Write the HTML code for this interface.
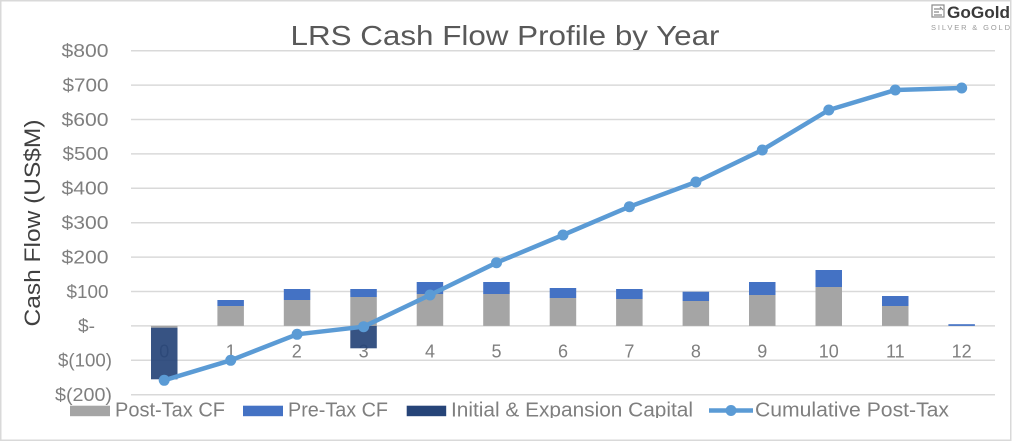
<!DOCTYPE html>
<html><head><meta charset="utf-8">
<style>
html,body{margin:0;padding:0;background:#fff;}
svg{display:block;font-family:"Liberation Sans",sans-serif;}
</style></head>
<body>
<svg width="1013" height="442" viewBox="0 0 1013 442" xmlns="http://www.w3.org/2000/svg">
<rect x="0" y="0" width="1013" height="442" fill="#fff"/>
<rect x="0.75" y="0.75" width="1010" height="439.5" fill="none" stroke="#d9d9d9" stroke-width="1.5"/>

<!-- title -->
<text x="290.5" y="45" font-size="28" fill="#595959" textLength="429" lengthAdjust="spacingAndGlyphs">LRS Cash Flow Profile by Year</text>

<!-- logo -->
<g>
<rect x="932" y="5" width="12" height="12" fill="none" stroke="#8a8a8a" stroke-width="1.2"/>
<path d="M934 9 L941 9 M934 12 L939 12 M934 15 L942 15 M940 7 L943 10" stroke="#8a8a8a" stroke-width="1.2" fill="none"/>
<text x="947" y="18" font-size="16.5" font-weight="bold" fill="#3a3a3a" textLength="63" lengthAdjust="spacingAndGlyphs">GoGold</text>
<text x="931" y="30" font-size="7.5" fill="#9a9a9a" textLength="79" lengthAdjust="spacing">SILVER &amp; GOLD</text>
</g>

<!-- gridlines -->
<g stroke="#d9d9d9" stroke-width="1.5">
<line x1="131" x2="995" y1="50.7" y2="50.7"/>
<line x1="131" x2="995" y1="85.1" y2="85.1"/>
<line x1="131" x2="995" y1="119.5" y2="119.5"/>
<line x1="131" x2="995" y1="153.9" y2="153.9"/>
<line x1="131" x2="995" y1="188.3" y2="188.3"/>
<line x1="131" x2="995" y1="222.7" y2="222.7"/>
<line x1="131" x2="995" y1="257.1" y2="257.1"/>
<line x1="131" x2="995" y1="291.5" y2="291.5"/>
<line x1="131" x2="995" y1="325.9" y2="325.9"/>
<line x1="131" x2="995" y1="360.3" y2="360.3"/>
<line x1="131" x2="995" y1="394.7" y2="394.7"/>
</g>

<!-- y tick labels -->
<g font-size="18" fill="#7f7f7f" text-anchor="end">
<text x="108.5" y="57" textLength="47" lengthAdjust="spacingAndGlyphs">$800</text>
<text x="108.5" y="91.4" textLength="46" lengthAdjust="spacingAndGlyphs">$700</text>
<text x="108.5" y="125.8" textLength="47" lengthAdjust="spacingAndGlyphs">$600</text>
<text x="108.5" y="160.2" textLength="46" lengthAdjust="spacingAndGlyphs">$500</text>
<text x="108.5" y="194.6" textLength="47" lengthAdjust="spacingAndGlyphs">$400</text>
<text x="108.5" y="229" textLength="47" lengthAdjust="spacingAndGlyphs">$300</text>
<text x="108.5" y="263.4" textLength="47" lengthAdjust="spacingAndGlyphs">$200</text>
<text x="108.5" y="297.8" textLength="42" lengthAdjust="spacingAndGlyphs">$100</text>
<text x="95" y="332.2" textLength="17" lengthAdjust="spacingAndGlyphs">$-</text>
<text x="112" y="366.6" textLength="54" lengthAdjust="spacingAndGlyphs">$(100)</text>
<text x="112" y="401" textLength="57" lengthAdjust="spacingAndGlyphs">$(200)</text>
</g>

<!-- y axis title -->
<text transform="translate(40,223) rotate(-90)" text-anchor="middle" font-size="22" fill="#404040" textLength="207" lengthAdjust="spacingAndGlyphs">Cash Flow (US$M)</text>

<!-- x labels (behind bars) -->
<g font-size="18" fill="#7f7f7f" text-anchor="middle">
<text x="164.2" y="357.5">0</text>
<text x="230.7" y="357.5">1</text>
<text x="296.7" y="357.5">2</text>
<text x="363.6" y="357.5">3</text>
<text x="430" y="357.5">4</text>
<text x="496.5" y="357.5">5</text>
<text x="563" y="357.5">6</text>
<text x="629.4" y="357.5">7</text>
<text x="695.9" y="357.5">8</text>
<text x="762.3" y="357.5">9</text>
<text x="828.8" y="357.5">10</text>
<text x="895.3" y="357.5">11</text>
<text x="961.7" y="357.5">12</text>
</g>

<!-- bars -->
<g>
<rect x="151" y="325.9" width="26.5" height="1.8" fill="#a5a5a5"/>
<rect x="151" y="327.7" width="26.5" height="51.6" fill="#264478" opacity="0.92"/>
<rect x="217.4" y="306" width="26.5" height="19.9" fill="#a5a5a5"/>
<rect x="217.4" y="300" width="26.5" height="6" fill="#4472c4"/>
<rect x="283.8" y="300" width="26.5" height="25.9" fill="#a5a5a5"/>
<rect x="283.8" y="289" width="26.5" height="11" fill="#4472c4"/>
<rect x="350.3" y="297" width="26.5" height="28.9" fill="#a5a5a5"/>
<rect x="350.3" y="289" width="26.5" height="8" fill="#4472c4"/>
<rect x="350.3" y="325.9" width="26.5" height="22.4" fill="#264478" opacity="0.92"/>
<rect x="416.7" y="294" width="26.5" height="31.9" fill="#a5a5a5"/>
<rect x="416.7" y="282" width="26.5" height="12" fill="#4472c4"/>
<rect x="483.2" y="294" width="26.5" height="31.9" fill="#a5a5a5"/>
<rect x="483.2" y="282" width="26.5" height="12" fill="#4472c4"/>
<rect x="549.7" y="298" width="26.5" height="27.9" fill="#a5a5a5"/>
<rect x="549.7" y="288" width="26.5" height="10" fill="#4472c4"/>
<rect x="616.1" y="299" width="26.5" height="26.9" fill="#a5a5a5"/>
<rect x="616.1" y="289" width="26.5" height="10" fill="#4472c4"/>
<rect x="682.6" y="301" width="26.5" height="24.9" fill="#a5a5a5"/>
<rect x="682.6" y="291.7" width="26.5" height="9.3" fill="#4472c4"/>
<rect x="749" y="295" width="26.5" height="30.9" fill="#a5a5a5"/>
<rect x="749" y="282" width="26.5" height="13" fill="#4472c4"/>
<rect x="815.5" y="287" width="26.5" height="38.9" fill="#a5a5a5"/>
<rect x="815.5" y="270" width="26.5" height="17" fill="#4472c4"/>
<rect x="882" y="306" width="26.5" height="19.9" fill="#a5a5a5"/>
<rect x="882" y="296" width="26.5" height="10" fill="#4472c4"/>
<rect x="948.4" y="324.2" width="26.5" height="1.7" fill="#4472c4"/>
</g>

<!-- cumulative line -->
<polyline fill="none" stroke="#5b9bd5" stroke-width="4.5" stroke-linejoin="round"
points="164.2,380.3 230.7,360.3 297.1,334.3 363.6,326.7 430,295 496.5,262.7 563,235 629.4,206.7 695.9,182 762.3,150 828.8,110 895.3,90 961.7,88"/>
<g fill="#5b9bd5">
<circle cx="164.2" cy="380.3" r="5.5"/>
<circle cx="230.7" cy="360.3" r="5.5"/>
<circle cx="297.1" cy="334.3" r="5.5"/>
<circle cx="363.6" cy="326.7" r="5.5"/>
<circle cx="430" cy="295" r="5.5"/>
<circle cx="496.5" cy="262.7" r="5.5"/>
<circle cx="563" cy="235" r="5.5"/>
<circle cx="629.4" cy="206.7" r="5.5"/>
<circle cx="695.9" cy="182" r="5.5"/>
<circle cx="762.3" cy="150" r="5.5"/>
<circle cx="828.8" cy="110" r="5.5"/>
<circle cx="895.3" cy="90" r="5.5"/>
<circle cx="961.7" cy="88" r="5.5"/>
</g>

<!-- legend -->
<defs><clipPath id="lc"><rect x="0" y="396" width="1013" height="22"/></clipPath></defs>
<g clip-path="url(#lc)">
<rect x="70" y="405.7" width="40" height="10.5" fill="#a5a5a5"/>
<rect x="243" y="405.7" width="40" height="10.5" fill="#4472c4"/>
<rect x="406.7" y="405.7" width="39.5" height="10.5" fill="#264478"/>
<line x1="709" x2="753" y1="410.5" y2="410.5" stroke="#5b9bd5" stroke-width="4.5"/>
<circle cx="731" cy="410.5" r="5.5" fill="#5b9bd5"/>
<g font-size="20" fill="#7f7f7f">
<text x="115" y="416.5" textLength="110" lengthAdjust="spacingAndGlyphs">Post-Tax CF</text>
<text x="288" y="416.5" textLength="100" lengthAdjust="spacingAndGlyphs">Pre-Tax CF</text>
<text x="451" y="416.5" textLength="242" lengthAdjust="spacingAndGlyphs">Initial &amp; Expansion Capital</text>
<text x="755" y="416.5" textLength="194" lengthAdjust="spacingAndGlyphs">Cumulative Post-Tax</text>
</g>
</g>
</svg>
</body></html>
